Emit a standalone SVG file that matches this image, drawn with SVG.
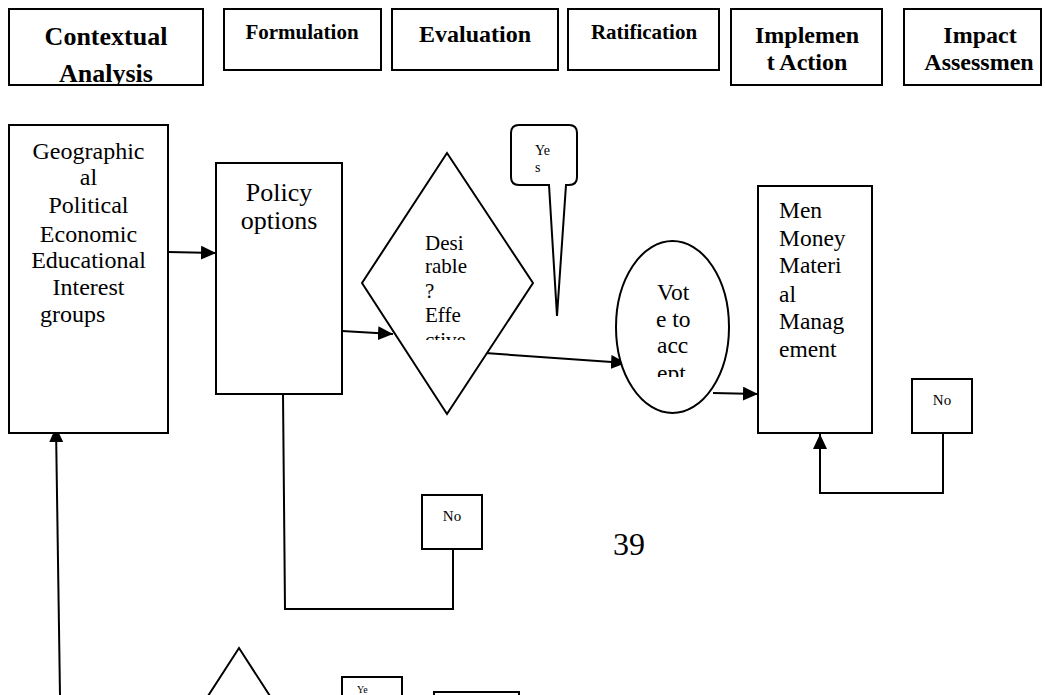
<svg xmlns="http://www.w3.org/2000/svg" width="1045" height="695" viewBox="0 0 1045 695">
<style>
.box{fill:#fff;stroke:#000;stroke-width:2}
.shape{fill:#fff;stroke:#000;stroke-width:2}
.hd{font-family:"Liberation Serif","Times New Roman",serif;font-weight:bold;text-anchor:middle;fill:#000}
.tx{font-family:"Liberation Serif","Times New Roman",serif;fill:#000}
.mid{text-anchor:middle}
.conn{fill:none;stroke:#000;stroke-width:2}
</style>
<defs>
<marker id="arr" viewBox="0 0 15 14" refX="15" refY="7" markerWidth="15" markerHeight="14" markerUnits="userSpaceOnUse" orient="auto">
<path d="M0,0 L15,7 L0,14 Z" fill="#000"/>
</marker>
<clipPath id="clipCtx"><rect x="9" y="9" width="194" height="75"/></clipPath>
<clipPath id="clipDia"><rect x="360" y="150" width="180" height="190"/></clipPath>
<clipPath id="clipVote"><rect x="610" y="240" width="130" height="137"/></clipPath>
</defs>
<rect width="1045" height="695" fill="#fff"/>

<g id="contextual">
<rect class="box" x="9" y="9" width="194" height="76"/>
<g clip-path="url(#clipCtx)">
<text class="hd" x="106" y="45" font-size="26">Contextual</text>
<text class="hd" x="106" y="82" font-size="26">Analysis</text>
</g>
</g>
<g id="formulation">
<rect class="box" x="224" y="9" width="157" height="61"/>
<text class="hd" x="302" y="39" font-size="21">Formulation</text>
</g>
<g id="evaluation">
<rect class="box" x="392" y="9" width="166" height="61"/>
<text class="hd" x="475" y="42" font-size="24">Evaluation</text>
</g>
<g id="ratification">
<rect class="box" x="568" y="9" width="151" height="61"/>
<text class="hd" x="644" y="39" font-size="21">Ratification</text>
</g>
<g id="implement">
<rect class="box" x="731" y="9" width="151" height="76"/>
<text class="hd" x="807" y="43" font-size="24">Implemen</text>
<text class="hd" x="807" y="70" font-size="24">t Action</text>
</g>
<g id="impact">
<rect class="box" x="904" y="9" width="137" height="76"/>
<text class="hd" x="980" y="43" font-size="24">Impact</text>
<text class="hd" x="979" y="70" font-size="24">Assessmen</text>
</g>

<g id="connectors">
<line class="conn" x1="168" y1="252" x2="216" y2="253" marker-end="url(#arr)"/>
<line class="conn" x1="342" y1="331" x2="393" y2="334" marker-end="url(#arr)"/>
<line class="conn" x1="485" y1="353" x2="626" y2="363" marker-end="url(#arr)"/>
<line class="conn" x1="713" y1="393" x2="758" y2="394" marker-end="url(#arr)"/>
<path class="conn" d="M943,433 V493 H820 V434" marker-end="url(#arr)"/>
<path class="conn" d="M283,394 L285,609 H453 V549"/>
<path class="conn" d="M60,695 L56,427" marker-end="url(#arr)"/>
</g>

<g id="factors">
<rect class="box" x="9" y="125" width="159" height="308"/>
<g class="tx mid" font-size="24">
<text x="88.5" y="159">Geographic</text>
<text x="88.5" y="185">al</text>
<text x="88.5" y="213">Political</text>
<text x="88.5" y="242">Economic</text>
<text x="88.5" y="268">Educational</text>
<text x="88.5" y="295">Interest</text>
</g>
<text class="tx" x="40" y="322" font-size="24">groups</text>
</g>

<g id="policy">
<rect class="box" x="216" y="163" width="126" height="231"/>
<text class="tx mid" x="279" y="201" font-size="26">Policy</text>
<text class="tx mid" x="279" y="229" font-size="26">options</text>
</g>

<g id="decision">
<polygon class="shape" points="447,153 533,283 447,414 362,283"/>
<g clip-path="url(#clipDia)" class="tx" font-size="21">
<text x="425" y="250">Desi</text>
<text x="425" y="273">rable</text>
<text x="425" y="298">?</text>
<text x="425" y="322">Effe</text>
<text x="425" y="347">ctive</text>
</g>
</g>

<g id="yes-callout">
<path class="shape" d="M519,125 H569 Q577,125 577,133 V177 Q577,185 569,185 H566 L557,316 L549,185 H519 Q511,185 511,177 V133 Q511,125 519,125 Z"/>
<text class="tx" x="535" y="155" font-size="14">Ye</text>
<text class="tx" x="535" y="172" font-size="14">s</text>
</g>

<g id="vote">
<ellipse class="shape" cx="672.5" cy="327" rx="56.5" ry="86"/>
<g clip-path="url(#clipVote)" class="tx" font-size="23.5">
<text x="657" y="300">Vot</text>
<text x="656" y="327">e to</text>
<text x="657" y="353">acc</text>
<text x="657" y="381">ept</text>
</g>
</g>

<g id="resources">
<rect class="box" x="758" y="186" width="114" height="247"/>
<g class="tx" font-size="23.5">
<text x="779" y="218">Men</text>
<text x="779" y="246">Money</text>
<text x="779" y="273">Materi</text>
<text x="779" y="302">al</text>
<text x="779" y="329">Manag</text>
<text x="779" y="357">ement</text>
</g>
</g>

<g id="no-right">
<rect class="box" x="912" y="379" width="60" height="54"/>
<text class="tx mid" x="942" y="405" font-size="15">No</text>
</g>

<g id="no-lower">
<rect class="box" x="422" y="495" width="60" height="54"/>
<text class="tx mid" x="452" y="521" font-size="15">No</text>
</g>

<g id="page-number">
<text class="tx mid" x="629" y="555" font-size="32">39</text>
</g>

<g id="bottom-diamond">
<polyline class="conn" points="208,696 239,648 270,696"/>
</g>

<g id="yes-lower">
<rect class="box" x="342" y="677" width="60" height="40"/>
<text class="tx" x="357" y="693" font-size="10">Ye</text>
</g>

<g id="bottom-box">
<rect class="box" x="434" y="692" width="85" height="30"/>
</g>
</svg>
